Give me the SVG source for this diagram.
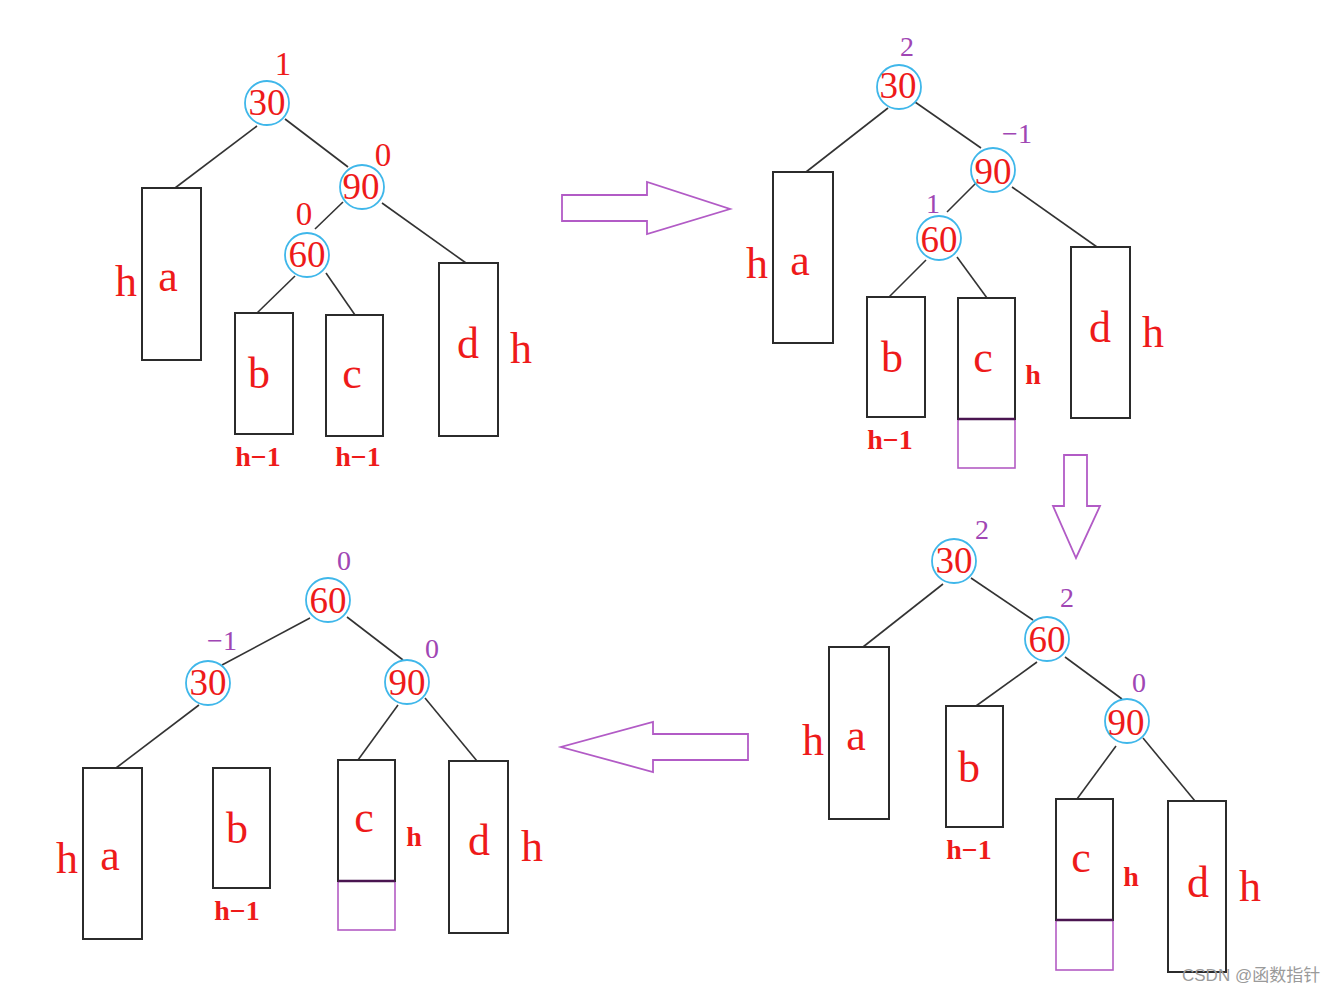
<svg xmlns="http://www.w3.org/2000/svg" width="1333" height="993" viewBox="0 0 1333 993">
<defs>
<style>
.bg{fill:#ffffff}
.box{fill:none;stroke:#2b2b2b;stroke-width:2}
.ext{fill:none;stroke:#b35cc4;stroke-width:1.6}
.extline{stroke:#4a1550;stroke-width:2.5}
.node{fill:none;stroke:#3fb7ea;stroke-width:1.8}
.edge{stroke:#333333;stroke-width:1.6;fill:none}
.arrow{fill:none;stroke:#b25bc6;stroke-width:1.8;stroke-linejoin:miter}
text{font-family:"Liberation Serif","Times New Roman",serif;text-anchor:middle}
.big{font-size:44px;fill:#ee1a1a}
.num{font-size:37px;fill:#ee1a1a}
.bf{font-size:33px;fill:#ee1a1a}
.bp{font-size:28px;fill:#a046b4}
.sm{font-size:28px;fill:#ee1a1a;font-weight:bold}
.wm{font-family:"Liberation Sans","Noto Sans CJK SC",sans-serif;font-size:17px;fill:#9a9a9a;text-anchor:start}
</style>
</defs>
<rect class="bg" x="0" y="0" width="1333" height="993"/>

<!-- connectors -->
<g id="connectors">
  <!-- tree 1 -->
  <line class="edge" x1="257" y1="126" x2="175" y2="188"/>
  <line class="edge" x1="285" y1="119" x2="348" y2="167"/>
  <line class="edge" x1="343" y1="202" x2="315" y2="229"/>
  <line class="edge" x1="382" y1="203" x2="466" y2="263"/>
  <line class="edge" x1="295" y1="276" x2="257" y2="313"/>
  <line class="edge" x1="326" y1="273" x2="355" y2="315"/>
  <!-- tree 2 -->
  <line class="edge" x1="888" y1="108" x2="806" y2="172"/>
  <line class="edge" x1="915" y1="102" x2="981" y2="148"/>
  <line class="edge" x1="976" y1="183" x2="947" y2="212"/>
  <line class="edge" x1="1012" y1="187" x2="1097" y2="247"/>
  <line class="edge" x1="926" y1="260" x2="889" y2="297"/>
  <line class="edge" x1="957" y1="257" x2="987" y2="298"/>
  <!-- tree 3 -->
  <line class="edge" x1="943" y1="584" x2="863" y2="647"/>
  <line class="edge" x1="971" y1="578" x2="1033" y2="620"/>
  <line class="edge" x1="1037" y1="662" x2="976" y2="706"/>
  <line class="edge" x1="1065" y1="657" x2="1122" y2="699"/>
  <line class="edge" x1="1116" y1="746" x2="1077" y2="799"/>
  <line class="edge" x1="1143" y1="738" x2="1195" y2="801"/>
  <!-- tree 4 -->
  <line class="edge" x1="310" y1="618" x2="222" y2="665"/>
  <line class="edge" x1="347" y1="617" x2="403" y2="660"/>
  <line class="edge" x1="199" y1="705" x2="116" y2="768"/>
  <line class="edge" x1="398" y1="705" x2="358" y2="760"/>
  <line class="edge" x1="425" y1="698" x2="477" y2="761"/>
</g>

<!-- transition arrows -->
<g id="arrow-right"><polygon class="arrow" points="562,195 647,195 647,182 730,209 647,234 647,221 562,221"/></g>
<g id="arrow-down"><polygon class="arrow" points="1064,455 1087,455 1087,506 1100,506 1076,558 1053,506 1064,506"/></g>
<g id="arrow-left"><polygon class="arrow" points="748,734 653,734 653,722 561,747 653,772 653,760 748,760"/></g>

<!-- ===== Tree 1 ===== -->
<g id="t1-n30"><circle class="node" cx="267" cy="103" r="22"/><text class="num" x="267" y="115">30</text><text class="bf" x="283" y="75">1</text></g>
<g id="t1-n90"><circle class="node" cx="362" cy="187" r="22"/><text class="num" x="361" y="199">90</text><text class="bf" x="383" y="166">0</text></g>
<g id="t1-n60"><circle class="node" cx="307" cy="255" r="22"/><text class="num" x="307" y="267">60</text><text class="bf" x="304" y="225">0</text></g>
<g id="t1-a"><rect class="box" x="142" y="188" width="59" height="172"/><text class="big" x="168" y="291">a</text><text class="big" x="126" y="296">h</text></g>
<g id="t1-b"><rect class="box" x="235" y="313" width="58" height="121"/><text class="big" x="259" y="388">b</text><text class="sm" x="258" y="466">h−1</text></g>
<g id="t1-c"><rect class="box" x="326" y="315" width="57" height="121"/><text class="big" x="352" y="388">c</text><text class="sm" x="358" y="466">h−1</text></g>
<g id="t1-d"><rect class="box" x="439" y="263" width="59" height="173"/><text class="big" x="468" y="358">d</text><text class="big" x="521" y="363">h</text></g>

<!-- ===== Tree 2 ===== -->
<g id="t2-n30"><circle class="node" cx="899" cy="87" r="22"/><text class="num" x="898" y="98">30</text><text class="bp" x="907" y="56">2</text></g>
<g id="t2-n90"><circle class="node" cx="993" cy="170" r="22"/><text class="num" x="993" y="184">90</text><text class="bp" x="1017" y="143">−1</text></g>
<g id="t2-n60"><circle class="node" cx="939" cy="238" r="22"/><text class="num" x="939" y="252">60</text><text class="bp" x="933" y="213">1</text></g>
<g id="t2-a"><rect class="box" x="773" y="172" width="60" height="171"/><text class="big" x="800" y="275">a</text><text class="big" x="757" y="278">h</text></g>
<g id="t2-b"><rect class="box" x="867" y="297" width="58" height="120"/><text class="big" x="892" y="372">b</text><text class="sm" x="890" y="449">h−1</text></g>
<g id="t2-c"><rect class="ext" x="958" y="419" width="57" height="49"/><rect class="box" x="958" y="298" width="57" height="121"/><line class="extline" x1="958" y1="419" x2="1015" y2="419"/><text class="big" x="983" y="372">c</text><text class="sm" x="1033" y="384">h</text></g>
<g id="t2-d"><rect class="box" x="1071" y="247" width="59" height="171"/><text class="big" x="1100" y="342">d</text><text class="big" x="1153" y="347">h</text></g>

<!-- ===== Tree 3 ===== -->
<g id="t3-n30"><circle class="node" cx="954" cy="561" r="22"/><text class="num" x="954" y="573">30</text><text class="bp" x="982" y="539">2</text></g>
<g id="t3-n60"><circle class="node" cx="1047" cy="639" r="22"/><text class="num" x="1047" y="652">60</text><text class="bp" x="1067" y="607">2</text></g>
<g id="t3-n90"><circle class="node" cx="1127" cy="721" r="22"/><text class="num" x="1126" y="735">90</text><text class="bp" x="1139" y="692">0</text></g>
<g id="t3-a"><rect class="box" x="829" y="647" width="60" height="172"/><text class="big" x="856" y="750">a</text><text class="big" x="813" y="755">h</text></g>
<g id="t3-b"><rect class="box" x="946" y="706" width="57" height="121"/><text class="big" x="969" y="782">b</text><text class="sm" x="969" y="859">h−1</text></g>
<g id="t3-c"><rect class="ext" x="1056" y="920" width="57" height="50"/><rect class="box" x="1056" y="799" width="57" height="121"/><line class="extline" x1="1056" y1="920" x2="1113" y2="920"/><text class="big" x="1081" y="872">c</text><text class="sm" x="1131" y="886">h</text></g>
<g id="t3-d"><rect class="box" x="1168" y="801" width="58" height="171"/><text class="big" x="1198" y="897">d</text><text class="big" x="1250" y="901">h</text></g>

<!-- ===== Tree 4 ===== -->
<g id="t4-n60"><circle class="node" cx="328" cy="600" r="22"/><text class="num" x="328" y="613">60</text><text class="bp" x="344" y="570">0</text></g>
<g id="t4-n30"><circle class="node" cx="208" cy="683" r="22"/><text class="num" x="208" y="695">30</text><text class="bp" x="222" y="650">−1</text></g>
<g id="t4-n90"><circle class="node" cx="407" cy="682" r="22"/><text class="num" x="407" y="695">90</text><text class="bp" x="432" y="658">0</text></g>
<g id="t4-a"><rect class="box" x="83" y="768" width="59" height="171"/><text class="big" x="110" y="870">a</text><text class="big" x="67" y="873">h</text></g>
<g id="t4-b"><rect class="box" x="213" y="768" width="57" height="120"/><text class="big" x="237" y="843">b</text><text class="sm" x="237" y="920">h−1</text></g>
<g id="t4-c"><rect class="ext" x="338" y="881" width="57" height="49"/><rect class="box" x="338" y="760" width="57" height="121"/><line class="extline" x1="338" y1="881" x2="395" y2="881"/><text class="big" x="364" y="832">c</text><text class="sm" x="414" y="846">h</text></g>
<g id="t4-d"><rect class="box" x="449" y="761" width="59" height="172"/><text class="big" x="479" y="855">d</text><text class="big" x="532" y="861">h</text></g>

<text class="wm" x="1182" y="981">CSDN @函数指针</text>
</svg>
